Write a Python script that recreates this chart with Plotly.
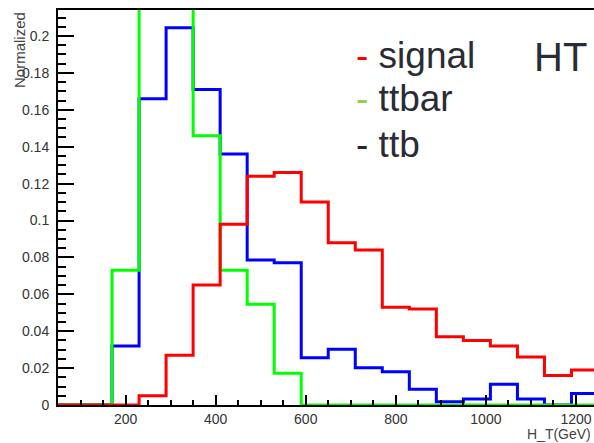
import plotly.graph_objects as go

# Histogram bin edges (GeV)
bin_edges = [50, 110, 170, 230, 290, 350, 410, 470, 530, 590, 650,
             710, 770, 830, 890, 950, 1010, 1070, 1130, 1190, 1250]

signal = [0, 0, 0, 0.005, 0.027, 0.065, 0.098, 0.124, 0.126, 0.110,
          0.088, 0.084, 0.053, 0.052, 0.037, 0.035, 0.032, 0.026, 0.016, 0.019]
ttb = [0, 0, 0.032, 0.166, 0.2045, 0.171, 0.136, 0.0786, 0.0771, 0.0256,
       0.0302, 0.0202, 0.018, 0.0085, 0.0018, 0.0033, 0.0112, 0.0033, 0, 0.0063]
ttbar = [0, 0, 0.073, 0.30, 0.28, 0.146, 0.073, 0.0546, 0.0172, 0,
         0, 0, 0, 0, 0, 0, 0, 0, 0, 0]

x_ticks = [200, 400, 600, 800, 1000, 1200]
y_ticks = [0, 0.02, 0.04, 0.06, 0.08, 0.1, 0.12, 0.14, 0.16, 0.18, 0.2]
y_tick_text = ["0", "0.02", "0.04", "0.06", "0.08", "0.1", "0.12", "0.14", "0.16", "0.18", "0.2"]

W, H = 594, 443
L, R, T, B = 58, 0, 10, 38

fig = go.Figure()
for vals, col, name in [(ttb, "#0000ff", "ttb"), (ttbar, "#00ff00", "ttbar"), (signal, "#ff0000", "signal")]:
    fig.add_trace(go.Scatter(
        x=bin_edges, y=vals + [vals[-1]], mode="lines", name=name,
        line=dict(color=col, width=3, shape="hv"), showlegend=False,
        hoverinfo="skip"))

axis_font = dict(family="Liberation Sans, Arial, sans-serif", size=14, color="#333333")
fig.update_xaxes(
    range=[50, 1240], showgrid=False, zeroline=False,
    showline=True, linecolor="black", linewidth=2, mirror=True,
    ticks="inside", ticklen=10, tickwidth=2, tickcolor="black",
    tickvals=x_ticks, ticktext=[str(v) for v in x_ticks], tickfont=axis_font,
    minor=dict(ticks="inside", ticklen=5, tickwidth=1.5, tickcolor="black", dtick=50, tick0=0),
)
fig.update_yaxes(
    range=[0, 0.2141], showgrid=False, zeroline=False,
    showline=True, linecolor="black", linewidth=2,
    ticks="inside", ticklen=16, tickwidth=2, tickcolor="black",
    tickvals=y_ticks, ticktext=y_tick_text, tickfont=axis_font,
    ticklabelstandoff=4,
    minor=dict(ticks="inside", ticklen=8, tickwidth=1.5, tickcolor="black", dtick=0.005, tick0=0),
)

pw, ph = W - L - R, H - T - B
def px(xp):
    return (xp - L) / pw
def py(yp):
    return (H - B - yp) / ph

txt = "#2b2b35"
leg_font = dict(family="Liberation Sans, Arial, sans-serif", size=37, color=txt)
legend_items = [("signal", "#ff0000", 56), ("ttbar", "#92d050", 99), ("ttb", "#262626", 144)]
for label, col, yc in legend_items:
    fig.add_annotation(
        text=f"<span style='color:{col}'>-</span> {label}",
        xref="paper", yref="paper", x=px(354), y=py(yc),
        xanchor="left", yanchor="middle", showarrow=False, font=leg_font)

fig.add_annotation(text="HT", xref="paper", yref="paper", x=px(532), y=py(57),
                   xanchor="left", yanchor="middle", showarrow=False,
                   font=dict(family="Liberation Sans, Arial, sans-serif", size=40, color=txt))

fig.add_annotation(text="Normalized", xref="paper", yref="paper", x=px(19), y=py(10),
                   xanchor="center", yanchor="top", textangle=-90, showarrow=False,
                   font=dict(family="Liberation Sans, Arial, sans-serif", size=15, color="#444444"))

fig.add_annotation(text="H_T(GeV)", xref="paper", yref="paper", x=px(526), y=py(443),
                   xanchor="left", yanchor="bottom", showarrow=False, borderpad=0,
                   font=dict(family="Liberation Sans, Arial, sans-serif", size=14, color="#444444"))

fig.update_layout(
    width=W, height=H, margin=dict(l=L, r=R, t=T, b=B, pad=0),
    paper_bgcolor="white", plot_bgcolor="white",
)

fig.write_html("out.html", config={"displayModeBar": False},
               post_script="document.body.style.margin='0px';document.body.style.overflow='hidden';")
